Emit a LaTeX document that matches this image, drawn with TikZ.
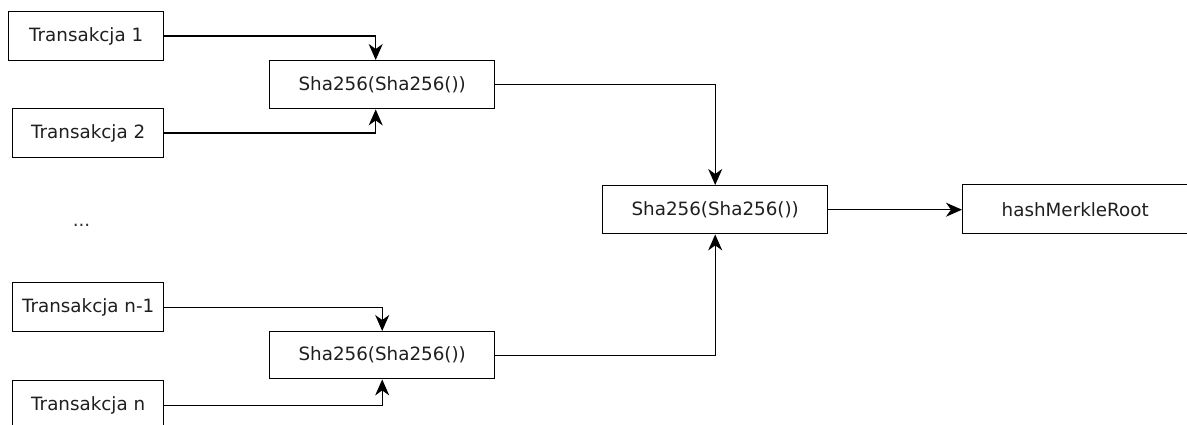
\documentclass[tikz,border=0pt]{standalone}
\usepackage{fontspec}
\setmainfont{DejaVu Sans}
\usetikzlibrary{arrows.meta}
\tikzset{
  box/.style={draw=black, line width=1.4pt, rectangle, anchor=north west, inner sep=0pt,
    font=\fontsize{18.3}{22}\selectfont, text=black!88},
  conn/.style={draw=black, line width=1.4pt, -{Stealth[length=16pt,width=14pt,inset=5pt]}}
}
\begin{document}
\begin{tikzpicture}[x=1pt,y=-1pt]
\useasboundingbox (0,0) rectangle (1187,425);
\clip (0,0) rectangle (1187,425);
\fill[white] (0,0) rectangle (1187,425);
\node[box, minimum width=155pt, minimum height=49pt] (t1) at (8,11) {Transakcja 1};
\node[box, minimum width=151pt, minimum height=49pt] (t2) at (12,108) {Transakcja 2};
\node[box, minimum width=225pt, minimum height=48pt] (h1) at (269,60) {Sha256(Sha256())};
\node[box, minimum width=151pt, minimum height=49pt] (tn1) at (12,282) {Transakcja n-1};
\node[box, minimum width=225pt, minimum height=47pt] (h2) at (269,331) {Sha256(Sha256())};
\node[box, minimum width=151pt, minimum height=49pt] (tn) at (12,380) {Transakcja n};
\node[box, minimum width=225pt, minimum height=48pt] (h3) at (602,185) {Sha256(Sha256())};
\node[box, minimum width=228pt, minimum height=49pt] (root) at (962,184) {\hspace*{-3pt}hashMerkleRoot};
\node[anchor=base, inner sep=0pt, font=\fontsize{18.3}{22}\selectfont, text=black!80] (dots) at (81.5,226) {...};
\draw[conn] (t1.east) -| ([xshift=-6.5pt]h1.north);
\draw[conn] (t2.east) -| ([xshift=-6.5pt]h1.south);
\draw[conn] (tn1.east) -| (h2.north);
\draw[conn] (tn.east) -| (h2.south);
\draw[conn] (h1.east) -| (h3.north);
\draw[conn] (h2.east) -| (h3.south);
\draw[conn] (h3.east) -- (h3.east -| root.west);
\end{tikzpicture}
\end{document}
